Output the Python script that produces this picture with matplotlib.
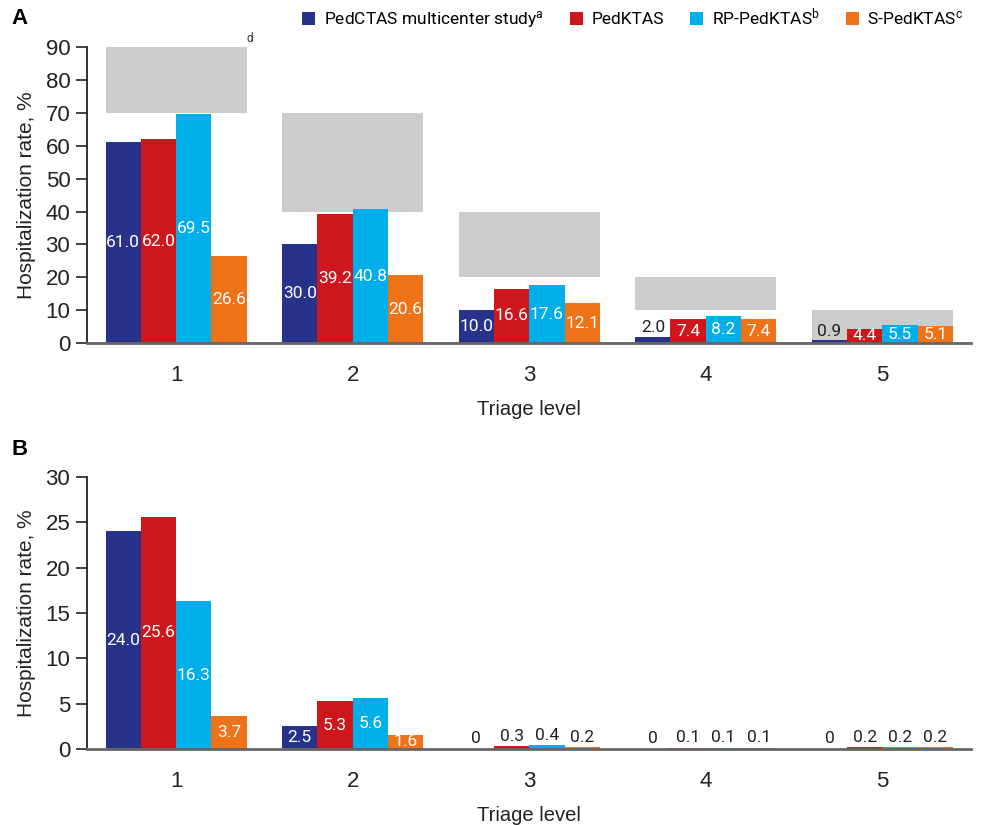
import matplotlib
matplotlib.use("Agg")
import matplotlib.pyplot as plt
import numpy as np
from matplotlib.patches import Patch

plt.rcParams['font.family'] = ['Liberation Sans', 'DejaVu Sans']
plt.rcParams['mathtext.fontset'] = 'custom'
plt.rcParams['mathtext.rm'] = 'Roboto'
plt.rcParams['mathtext.it'] = 'Roboto'

levels = ['1', '2', '3', '4', '5']
series = ['PedCTAS multicenter study$^{\\mathrm{a}}$', 'PedKTAS',
          'RP-PedKTAS$^{\\mathrm{b}}$', 'S-PedKTAS$^{\\mathrm{c}}$']
colors = ['#27338B', '#CD171D', '#00AEEA', '#EE7218']

a_values = [
    [61.0, 30.0, 10.0, 2.0, 0.9],
    [62.0, 39.2, 16.6, 7.4, 4.4],
    [69.5, 40.8, 17.6, 8.2, 5.5],
    [26.6, 20.6, 12.1, 7.4, 5.1],
]
a_ref_low = [70, 40, 20, 10, 0]
a_ref_high = [90, 70, 40, 20, 10]

b_values = [
    [24.0, 2.5, 0, 0, 0],
    [25.6, 5.3, 0.3, 0.1, 0.2],
    [16.3, 5.6, 0.4, 0.1, 0.2],
    [3.7, 1.6, 0.2, 0.1, 0.2],
]
b_labels = [
    ['24.0', '2.5', '0', '0', '0'],
    ['25.6', '5.3', '0.3', '0.1', '0.2'],
    ['16.3', '5.6', '0.4', '0.1', '0.2'],
    ['3.7', '1.6', '0.2', '0.1', '0.2'],
]

fig = plt.figure(figsize=(9.84, 8.25), dpi=100)
axA = fig.add_axes([0.0884, 0.584, 0.898, 0.359])
axB = fig.add_axes([0.0884, 0.092, 0.898, 0.330])

x = np.arange(1, 6)
w = 0.2
offs = [-1.5, -0.5, 0.5, 1.5]
valfont = dict(family='Roboto', fontsize=12.5)


def style(ax, ymax, step):
    ax.set_xlim(0.495, 5.5)
    ax.set_ylim(0, ymax)
    ax.set_yticks(np.arange(0, ymax + 0.1, step))
    ax.set_xticks(x)
    ax.set_xticklabels(levels)
    for s in ['top', 'right']:
        ax.spines[s].set_visible(False)
    ax.spines['left'].set_color('#222222')
    ax.spines['left'].set_linewidth(1.3)
    ax.spines['bottom'].set_color('#666666')
    ax.spines['bottom'].set_linewidth(2)
    ax.tick_params(axis='y', length=8, width=1.2, pad=4, labelsize=16,
                   colors='#222222')
    ax.tick_params(axis='x', length=0, pad=16, labelsize=16, colors='#222222')
    ax.set_xlabel('Triage level', fontsize=14.5, color='#222222', labelpad=10)
    ax.set_ylabel('Hospitalization rate, %', fontsize=15, color='#222222',
                  labelpad=7)


style(axA, 90, 10)
style(axB, 30, 5)

# Panel A
axA.bar(x, np.array(a_ref_high) - np.array(a_ref_low), width=0.8,
        bottom=a_ref_low, color='#CCCCCC', zorder=1)
for i in range(4):
    vals = a_values[i]
    axA.bar(x + offs[i] * w, vals, width=w, color=colors[i], zorder=2)
    for j, v in enumerate(vals):
        if v >= 4:
            axA.text(x[j] + offs[i] * w, v / 2, f'{v:.1f}', ha='center',
                     va='center', color='white', zorder=3, **valfont)
        else:
            axA.text(x[j] + offs[i] * w, v + 0.4, f'{v:.1f}', ha='center',
                     va='bottom', color='#222222', zorder=3, **valfont)
axA.text(1.42, 90.5, 'd', fontsize=8.5, color='#333333', family='Roboto',
         va='bottom', ha='center')

# Panel B
for i in range(4):
    vals = b_values[i]
    axB.bar(x + offs[i] * w, vals, width=w, color=colors[i], zorder=2)
    for j, v in enumerate(vals):
        if v >= 1:
            axB.text(x[j] + offs[i] * w, v / 2, b_labels[i][j], ha='center',
                     va='center', color='white', zorder=3, **valfont)
        else:
            axB.text(x[j] + offs[i] * w, v + 0.3, b_labels[i][j], ha='center',
                     va='bottom', color='#222222', zorder=3, **valfont)

fig.text(0.012, 0.978, 'A', fontsize=16, fontweight='bold', va='center')
fig.text(0.012, 0.455, 'B', fontsize=16, fontweight='bold', va='center')

handles = [Patch(facecolor=c) for c in colors]
fig.legend(handles, series, loc='center right', bbox_to_anchor=(0.995, 0.978),
           ncol=4, frameon=False, handlelength=0.75, handleheight=0.75,
           handletextpad=0.5, columnspacing=1.5,
           prop=dict(family='Roboto', size=12.5))

fig.savefig('out.png', dpi=100)
